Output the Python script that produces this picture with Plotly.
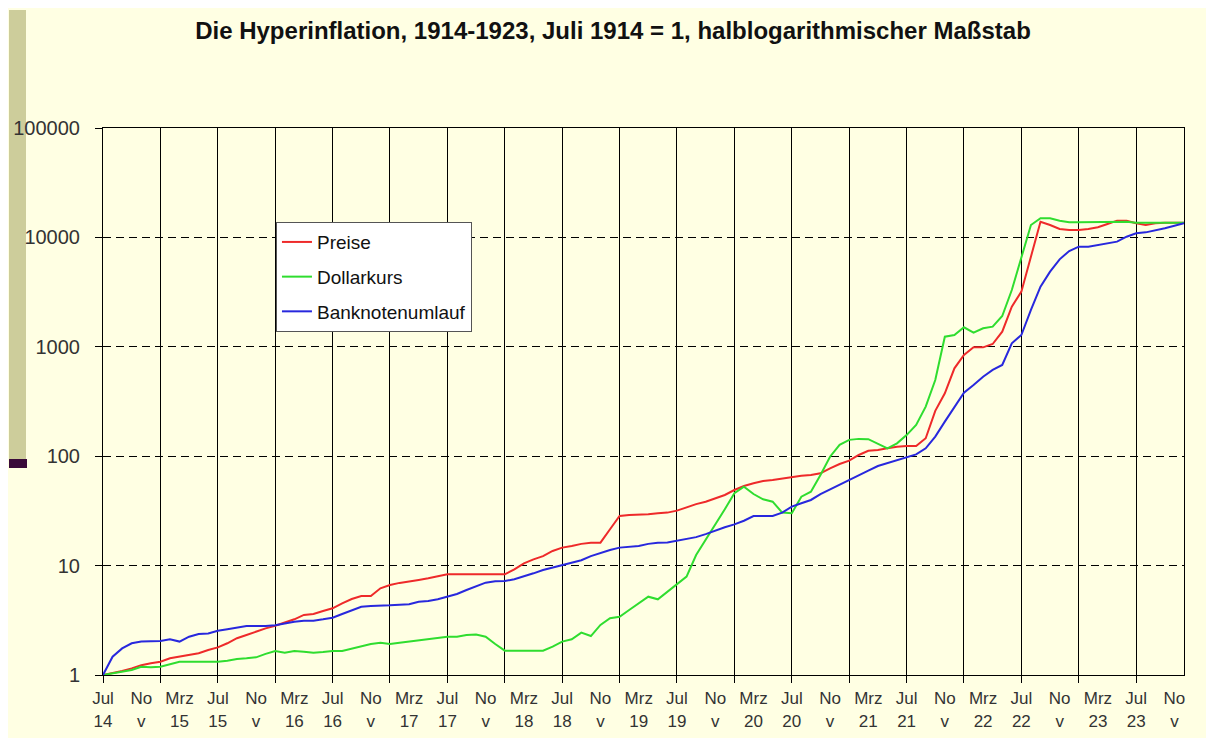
import plotly.graph_objects as go

# month index 0 = Jul 1914 ... 113 = Dec 1923
MONTHS = list(range(114))

PREISE = [
    1.0, 1.04, 1.09, 1.15, 1.23, 1.28, 1.32, 1.42, 1.47, 1.52,
    1.58, 1.69, 1.79, 1.95, 2.17, 2.32, 2.49, 2.67, 2.82, 3.01,
    3.23, 3.54, 3.61, 3.85, 4.07, 4.52, 4.95, 5.27, 5.27, 6.20,
    6.64, 6.95, 7.13, 7.39, 7.65, 8.04, 8.32, 8.32, 8.32, 8.32,
    8.32, 8.32, 8.32, 9.25, 10.5, 11.4, 12.2, 13.6, 14.6, 15.1,
    15.8, 16.2, 16.2, 21.5, 28.4, 29.0, 29.0, 29.4, 30.1, 30.5,
    31.8, 34.1, 36.5, 38.4, 41.2, 44.2, 49.1, 53.4, 56.5, 59.3,
    60.6, 62.8, 65.0, 66.4, 67.3, 69.8, 77.5, 84.9, 91.0, 102.6,
    112, 114, 118, 122, 124, 124, 146, 260, 376, 636,
    841, 989, 989, 1061, 1375, 2326, 3192, 6668, 13920, 12980,
    11930, 11690, 11690, 11930, 12370, 13270, 14220, 14220, 13450, 12980,
    13450, 13640, 13640, 13640,
]

DOLLARKURS = [
    1.0, 1.04, 1.07, 1.11, 1.19, 1.18, 1.19, 1.25, 1.32, 1.32,
    1.32, 1.32, 1.32, 1.35, 1.40, 1.42, 1.45, 1.56, 1.66, 1.60,
    1.66, 1.63, 1.60, 1.62, 1.66, 1.66, 1.75, 1.84, 1.92, 1.97,
    1.92, 1.97, 2.02, 2.09, 2.13, 2.21, 2.24, 2.24, 2.32, 2.35,
    2.24, 1.92, 1.67, 1.67, 1.67, 1.67, 1.67, 1.82, 2.02, 2.12,
    2.44, 2.27, 2.87, 3.30, 3.41, 3.93, 4.52, 5.20, 4.92, 5.78,
    6.79, 7.93, 12.5, 17.1, 23.5, 32.7, 45.8, 52.7, 45.1, 40.4,
    38.4, 30.5, 30.1, 42.7, 47.4, 67.3, 99, 127, 141, 144,
    143, 131, 118, 131, 156, 193, 284, 497, 1238, 1282,
    1507, 1346, 1475, 1528, 1913, 3305, 6440, 12980, 14950, 14950,
    14220, 13740, 13740, 13740, 13740, 13740, 13920, 13920, 13640, 13640,
    13640, 13740, 13740, 13640,
]

BANKNOTENUMLAUF = [
    1.0, 1.47, 1.75, 1.95, 2.02, 2.05, 2.05, 2.12, 2.02, 2.24,
    2.37, 2.40, 2.54, 2.62, 2.73, 2.80, 2.80, 2.80, 2.85, 2.97,
    3.07, 3.14, 3.14, 3.23, 3.34, 3.61, 3.93, 4.21, 4.27, 4.27,
    4.33, 4.38, 4.43, 4.68, 4.75, 4.92, 5.20, 5.50, 5.98, 6.51,
    6.98, 7.18, 7.23, 7.50, 7.93, 8.50, 9.12, 9.57, 10.1, 10.7,
    11.2, 12.2, 13.1, 13.9, 14.6, 14.9, 15.1, 15.8, 16.2, 16.3,
    16.9, 17.5, 18.2, 19.4, 20.9, 22.4, 23.8, 25.7, 28.4, 28.4,
    28.4, 30.5, 34.6, 37.1, 39.8, 45.1, 49.8, 55.7, 61.5, 67.3,
    73.8, 81.3, 86.1, 92.3, 97.7, 104, 118, 151, 207, 284,
    381, 448, 533, 614, 682, 1076, 1282, 2170, 3545, 4862,
    6303, 7510, 8227, 8227, 8530, 8836, 9150, 10150, 10890, 11120,
    11530, 12110, 12800, 13450,
]

TICK_POS = list(range(0, 113, 4))
TICK_LABELS = [
    "Jul<br>14", "No<br>v", "Mrz<br>15", "Jul<br>15", "No<br>v", "Mrz<br>16",
    "Jul<br>16", "No<br>v", "Mrz<br>17", "Jul<br>17", "No<br>v", "Mrz<br>18",
    "Jul<br>18", "No<br>v", "Mrz<br>19", "Jul<br>19", "No<br>v", "Mrz<br>20",
    "Jul<br>20", "No<br>v", "Mrz<br>21", "Jul<br>21", "No<br>v", "Mrz<br>22",
    "Jul<br>22", "No<br>v", "Mrz<br>23", "Jul<br>23", "No<br>v",
]
GRID_POS = list(range(0, 109, 6))
Y_TICKS = [1, 10, 100, 1000, 10000, 100000]
Y_LABELS = ["1", "10", "100", "1000", "10000", "100000"]

SERIES = [
    ("Preise", PREISE, "#EE2A2A"),
    ("Dollarkurs", DOLLARKURS, "#2FDD2F"),
    ("Banknotenumlauf", BANKNOTENUMLAUF, "#2828DD"),
]

BG = "#FFFFE3"
FONT = "Liberation Sans, Arial, sans-serif"

# the page body adds an 8px margin, so the figure is 8px smaller than the window
W, H = 1206, 730

fig = go.Figure()

# helper trace so the gridline axis is rendered
fig.add_trace(go.Scatter(x=[MONTHS[0], MONTHS[-1]], y=[1, 1], xaxis="x2", mode="lines",
                         line=dict(width=0, color="rgba(0,0,0,0)"), showlegend=False,
                         hoverinfo="skip"))

for name, vals, col in SERIES:
    fig.add_trace(go.Scatter(x=MONTHS, y=vals, name=name, mode="lines",
                             legendgroup=name,
                             line=dict(color=col, width=2)))

fig.update_layout(
    width=W, height=H,
    paper_bgcolor=BG, plot_bgcolor=BG,
    margin=dict(l=95, r=30, t=120, b=63, autoexpand=False),
    font=dict(family=FONT, color="#222"),
    title=dict(text="<b>Die Hyperinflation, 1914-1923, Juli 1914 = 1, halblogarithmischer Maßstab</b>",
               x=605 / W, xref="container", xanchor="center",
               y=1 - 23 / H, yref="container", yanchor="middle",
               font=dict(size=24, family=FONT, color="#111")),
    xaxis=dict(range=[0, 113], tickmode="array", tickvals=TICK_POS, ticktext=TICK_LABELS,
               ticks="", showgrid=False, zeroline=False, showline=True, linecolor="black",
               linewidth=1, mirror=True, tickfont=dict(size=17, color="#333"),
               ticklabelstandoff=8),
    xaxis2=dict(range=[0, 113], overlaying="x", anchor="y", side="bottom",
                tickmode="array", tickvals=GRID_POS, showticklabels=False,
                ticks="outside", ticklen=7, tickcolor="black",
                showgrid=True, gridcolor="black", gridwidth=1, zeroline=False, showline=False),
    yaxis=dict(type="log", range=[0, 5], tickmode="array", tickvals=Y_TICKS, ticktext=Y_LABELS,
               ticks="outside", ticklen=7, tickcolor="black",
               showgrid=True, gridcolor="black", gridwidth=1, griddash="8px,5px",
               showline=True, linecolor="black", linewidth=1, mirror=True, zeroline=False,
               tickfont=dict(size=20, color="#333"), ticklabelstandoff=11),
    legend=dict(x=0.160, y=0.828, xanchor="left", yanchor="top",
                bgcolor="white", bordercolor="#555", borderwidth=1,
                font=dict(size=19, color="#111"), tracegroupgap=7,
                traceorder="grouped"),
    showlegend=True,
)

# decorative slide elements (left bar with dark foot)
fig.add_shape(type="rect", xref="paper", yref="paper",
              x0=(9 - 103) / 1081, x1=(26 - 103) / 1081, y0=(675 - 459) / 547, y1=(675 - 10) / 547,
              fillcolor="#CDCD9B", line=dict(width=0), layer="below")
fig.add_shape(type="rect", xref="paper", yref="paper",
              x0=(9 - 103) / 1081, x1=(27 - 103) / 1081, y0=(675 - 468) / 547, y1=(675 - 459) / 547,
              fillcolor="#3A0A3A", line=dict(width=0), layer="below")

fig.write_html("out.html")
